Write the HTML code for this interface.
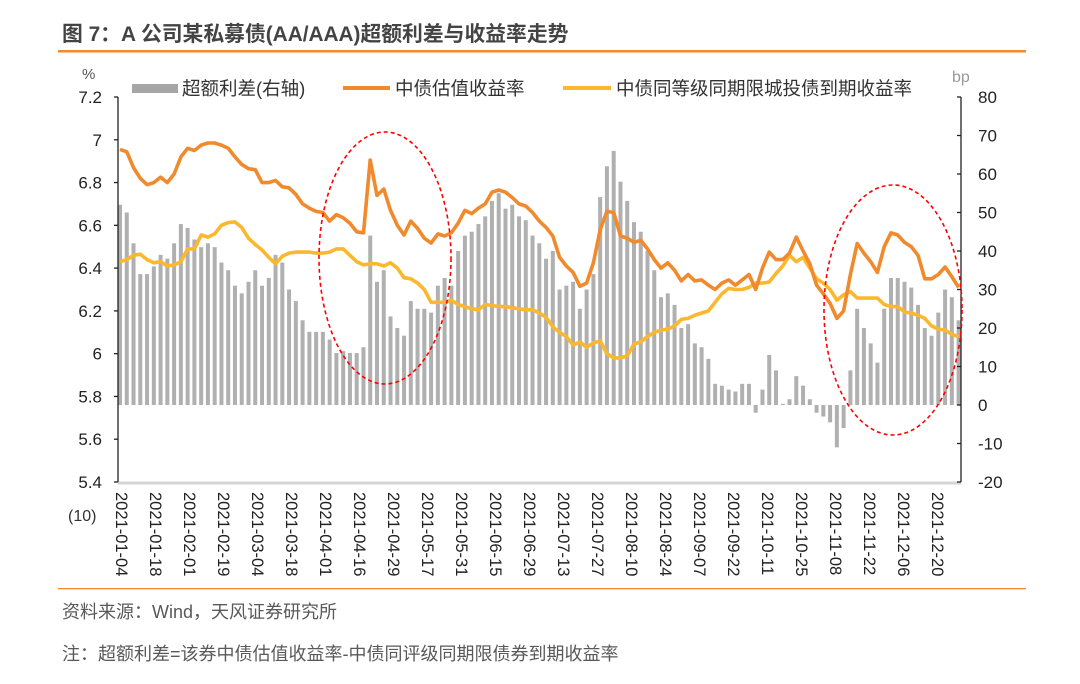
<!DOCTYPE html>
<html><head><meta charset="utf-8"><style>
body{margin:0;background:#fff;}
svg text{font-family:"Liberation Sans","Noto Sans CJK SC",sans-serif;}
</style></head><body>
<svg width="1080" height="679" viewBox="0 0 1080 679">
<text x="62" y="41" font-size="20.8" font-weight="bold" fill="#444">图 7：A 公司某私募债(AA/AAA)超额利差与收益率走势</text>
<rect x="58" y="50" width="968" height="2.5" fill="#f08a2c"/>
<rect x="58" y="588" width="968" height="1.3" fill="#f08a2c"/>
<text x="62" y="618" font-size="18" fill="#595959">资料来源：Wind，天风证券研究所</text>
<text x="62" y="660" font-size="18" fill="#595959">注：超额利差=该券中债估值收益率-中债同评级同期限债券到期收益率</text>
<g id="legend">
<rect x="132" y="84" width="46" height="9" fill="#a6a6a6"/>
<text x="182" y="95" font-size="18.5" fill="#333">超额利差(右轴)</text>
<rect x="343" y="86" width="47" height="4" fill="#f08a2c"/>
<text x="395" y="95" font-size="18.5" fill="#333">中债估值收益率</text>
<rect x="563" y="86" width="48" height="4" fill="#fbb82f"/>
<text x="616" y="95" font-size="18.5" fill="#333">中债同等级同期限城投债到期收益率</text>
</g>
<text x="82" y="79" font-size="15" fill="#555">%</text>
<text x="952" y="82" font-size="16" fill="#999">bp</text>
<text x="68" y="521" font-size="16" fill="#333">(10)</text>
<g id="plot"></g>
</svg>
<script>
const dateLabels=["2021-01-04","2021-01-18","2021-02-01","2021-02-19","2021-03-04","2021-03-18","2021-04-01","2021-04-16","2021-04-29","2021-05-17","2021-05-31","2021-06-15","2021-06-29","2021-07-13","2021-07-27","2021-08-10","2021-08-24","2021-09-07","2021-09-22","2021-10-11","2021-10-25","2021-11-08","2021-11-22","2021-12-06","2021-12-20"];
const leftTicks=[7.2,7,6.8,6.6,6.4,6.2,6,5.8,5.6,5.4];
const rightTicks=[80,70,60,50,40,30,20,10,0,-10,-20];
const spread=[52,50,42,34,34,36,39,38,42,47,46,43,41,42,41,37,35,31,29,32,35,31,33,39,37,30,27,22,19,19,19,17,13.5,14,13.5,13.5,15,44,32,35,23,20,18,27,25,25,24,31,33,31,40,44,45,47,49,53,55,51,52,49,48,44,42,38,40,30,31,32,25,30,34,54,62,66,58,53,47.5,45,40,35,28,29,26,20,21,16,15,12,5.5,5,4,3.5,5.5,5.5,-2,4,13,9,0.3,1.5,7.5,5,1.5,-2,-3,-4.5,-11,-6,9,25,20,16,11,25,33,33,32,30.5,26,20,18,24,30,28,22];
const valuation=[6.955,6.944,6.87,6.82,6.79,6.80,6.825,6.80,6.84,6.92,6.96,6.95,6.975,6.985,6.985,6.975,6.96,6.92,6.885,6.865,6.86,6.80,6.80,6.81,6.78,6.775,6.745,6.70,6.68,6.665,6.66,6.62,6.65,6.635,6.61,6.57,6.565,6.905,6.74,6.77,6.67,6.60,6.555,6.62,6.585,6.54,6.517,6.56,6.55,6.565,6.61,6.67,6.655,6.68,6.70,6.755,6.765,6.755,6.73,6.70,6.69,6.66,6.62,6.59,6.55,6.45,6.41,6.38,6.315,6.33,6.425,6.58,6.665,6.66,6.55,6.54,6.52,6.53,6.49,6.44,6.40,6.425,6.39,6.34,6.37,6.34,6.345,6.32,6.30,6.33,6.345,6.32,6.345,6.37,6.30,6.40,6.475,6.44,6.44,6.47,6.545,6.48,6.42,6.32,6.28,6.235,6.165,6.20,6.37,6.515,6.47,6.43,6.38,6.50,6.565,6.555,6.52,6.50,6.46,6.35,6.35,6.37,6.405,6.36,6.31];
const benchmark=[6.43,6.44,6.46,6.465,6.44,6.425,6.43,6.41,6.415,6.43,6.49,6.49,6.555,6.545,6.56,6.60,6.613,6.616,6.59,6.54,6.51,6.485,6.45,6.42,6.455,6.47,6.475,6.475,6.475,6.47,6.47,6.475,6.49,6.49,6.46,6.43,6.415,6.42,6.42,6.41,6.425,6.40,6.355,6.35,6.33,6.30,6.24,6.24,6.24,6.25,6.23,6.22,6.21,6.205,6.23,6.225,6.22,6.22,6.215,6.21,6.205,6.205,6.19,6.17,6.125,6.10,6.08,6.04,6.055,6.03,6.05,6.06,6.00,5.98,5.98,5.99,6.045,6.055,6.08,6.10,6.11,6.115,6.13,6.16,6.165,6.18,6.19,6.20,6.24,6.28,6.305,6.30,6.30,6.31,6.33,6.33,6.335,6.375,6.41,6.46,6.43,6.45,6.40,6.35,6.33,6.30,6.25,6.275,6.29,6.26,6.26,6.26,6.26,6.23,6.22,6.22,6.195,6.19,6.18,6.165,6.13,6.115,6.11,6.09,6.08];

const NS="http://www.w3.org/2000/svg";
const plot=document.getElementById('plot');
const X0=120,X1=958.6,YT=97,YB=482;
const xAt=i=>X0+(X1-X0)*i/(spread.length-1);
const yL=v=>YB-(v-5.4)/(7.2-5.4)*(YB-YT);
const yR=v=>YB-(v+20)/100*(YB-YT);
function mk(tag,attrs){const e=document.createElementNS(NS,tag);for(const k in attrs)e.setAttribute(k,attrs[k]);plot.appendChild(e);return e;}

spread.forEach((v,i)=>{
  const y0=yR(0),y1=yR(v);
  const r=mk('rect',{x:xAt(i)-2,y:Math.min(y0,y1),width:4,height:Math.max(0.5,Math.abs(y1-y0)),fill:'#b0b0b0'});
  
  
});
const bl=mk('line',{x1:118,y1:YB+1,x2:961,y2:YB+1,stroke:'#d4d4d4','stroke-width':3});


const la=mk('line',{x1:118,y1:YT,x2:118,y2:YB,stroke:'#222','stroke-width':1.3});


const ra=mk('line',{x1:961,y1:YT,x2:961,y2:YB,stroke:'#222','stroke-width':1.3});


leftTicks.forEach(t=>{
  const y=yL(t);
  const tk=mk('line',{x1:114,y1:y,x2:118,y2:y,stroke:'#222','stroke-width':1.3});
  
  
  const tx=mk('text',{x:102,y:y+6,'font-size':17,'text-anchor':'end',fill:'#222'});
  tx.textContent=String(t);
  
  
});
rightTicks.forEach(t=>{
  const y=yR(t);
  const tk=mk('line',{x1:957,y1:y,x2:961,y2:y,stroke:'#222','stroke-width':1.3});
  
  
  const tx=mk('text',{x:978,y:y+6,'font-size':17,fill:'#222'});
  tx.textContent=String(t);
  
  
});
dateLabels.forEach((d,k)=>{
  const x=122+k*34;
  const tx=mk('text',{x:0,y:0,'font-size':16.5,fill:'#222',transform:`translate(${x-6},492) rotate(90)`});
  tx.textContent=d;
  
  
});
function line(arr,color,name){
  const d=arr.map((v,i)=>(i?'L':'M')+xAt(i).toFixed(1)+','+yL(v).toFixed(1)).join('');
  const p=mk('path',{d:d,fill:'none',stroke:color,'stroke-width':3.6,'stroke-linejoin':'round'});
  
  
}
line(benchmark,'#fbb82f','benchmark-yield-line');
line(valuation,'#f08a2c','valuation-yield-line');
const e1=mk('ellipse',{cx:385,cy:258,rx:66,ry:126,fill:'none',stroke:'#ff0000','stroke-width':1.6,'stroke-dasharray':'4 3'});


const e2=mk('ellipse',{cx:893,cy:310,rx:69,ry:125,fill:'none',stroke:'#ff0000','stroke-width':1.6,'stroke-dasharray':'4 3'});


</script>
</body></html>
